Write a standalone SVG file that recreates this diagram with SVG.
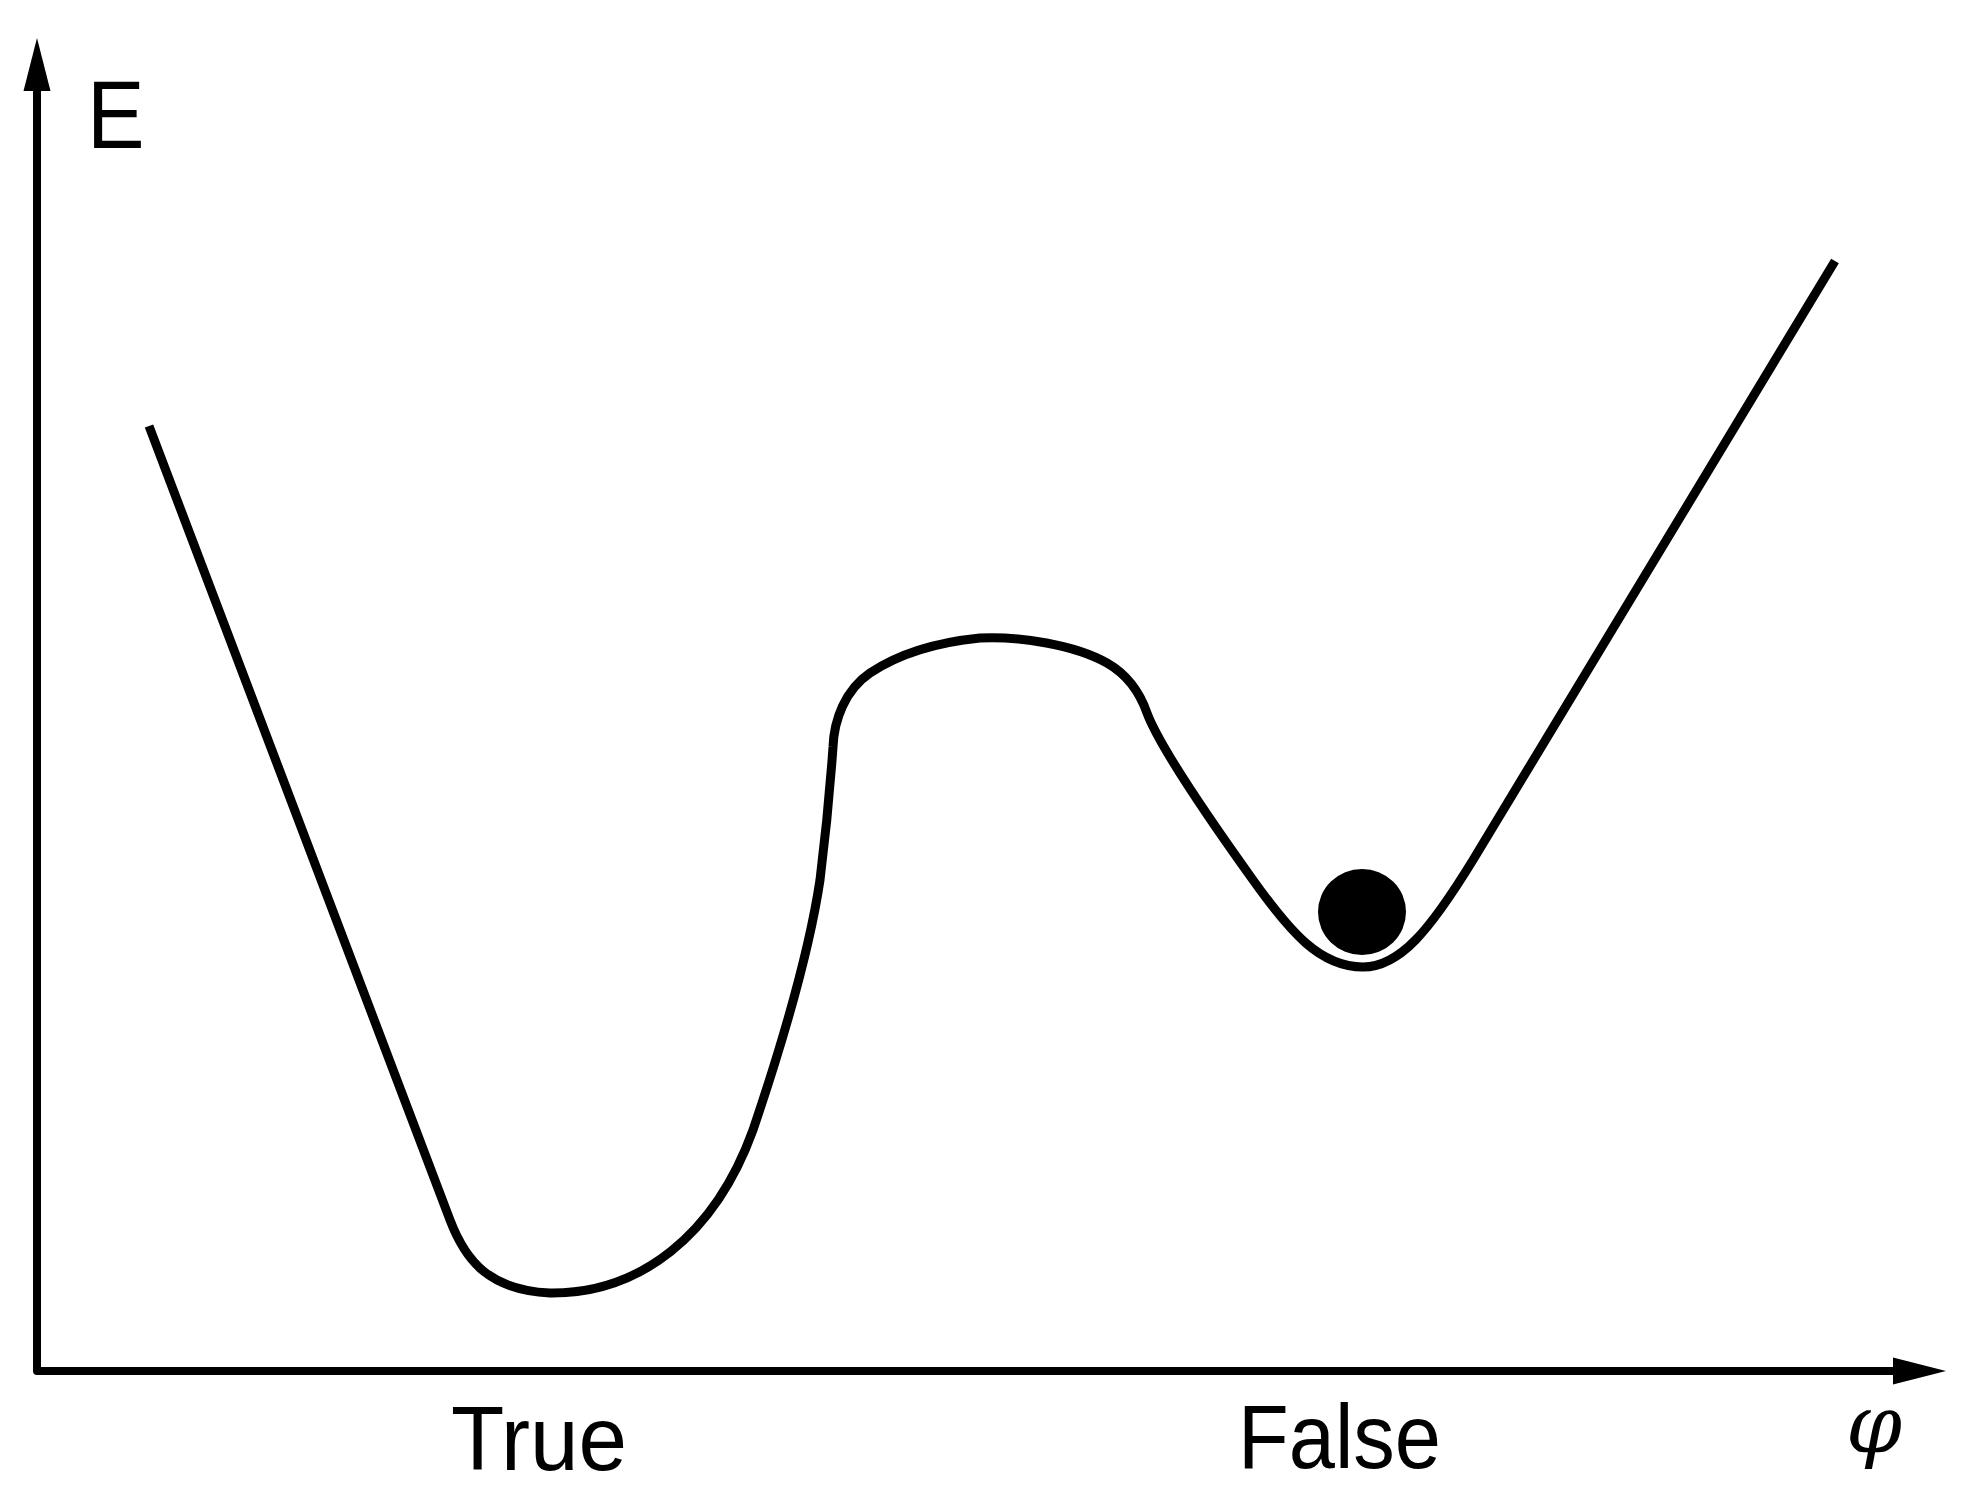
<svg xmlns="http://www.w3.org/2000/svg" width="1980" height="1497" viewBox="0 0 1980 1497">
<defs>
<style>
.axis{fill:none;stroke:#000;stroke-width:8;stroke-linejoin:round}
.curve{fill:none;stroke:#000;stroke-width:9;stroke-linejoin:round}
.lbl{font-family:"Liberation Sans",Arial,sans-serif;fill:#000}
.sym{font-family:"DejaVu Serif",serif;font-style:italic;fill:#000}
</style>
<marker id="arrow" markerUnits="userSpaceOnUse" markerWidth="54" markerHeight="28" refX="0" refY="13.5" orient="auto-start-reverse" viewBox="0 0 54 27">
<path d="M0,0 L53,13.5 L0,27 Z" fill="#000"/>
</marker>
</defs>
<rect width="1980" height="1497" fill="#fff"/>
<g id="connectors">
<path id="axes" class="axis" d="M37,91 L37,1371 L1893,1371" marker-start="url(#arrow)" marker-end="url(#arrow)"/>
</g>
<g id="energy-curve">
<path class="curve" d="M149,426 L450,1220 C466,1262 490,1290 550,1293 C640,1294 715,1235 753,1130 C775,1065 808,960 820,880 C825,840 830,790 833,747 C834,720 845,690 870,673 C900,653 940,642 980,638 C1020,636 1075,645 1107,663 C1128,675 1140,693 1147,713 C1160,748 1210,820 1253,880 C1290,932 1320,967 1363,967 C1400,967 1430,930 1473,860 L1835,261"/>
</g>
<g id="ball">
<ellipse cx="1362" cy="912" rx="44" ry="43" fill="#000"/>
</g>
<g id="label-E">
<text class="lbl" x="87" y="148" font-size="96" textLength="57.6" lengthAdjust="spacingAndGlyphs">E</text>
</g>
<g id="label-true">
<text class="lbl" x="451" y="1470" font-size="91" textLength="176" lengthAdjust="spacingAndGlyphs">True</text>
</g>
<g id="label-false">
<text class="lbl" x="1238" y="1468" font-size="91" textLength="203" lengthAdjust="spacingAndGlyphs">False</text>
</g>
<g id="label-phi">
<text class="sym" x="1846" y="1452" font-size="80">φ</text>
</g>
</svg>
